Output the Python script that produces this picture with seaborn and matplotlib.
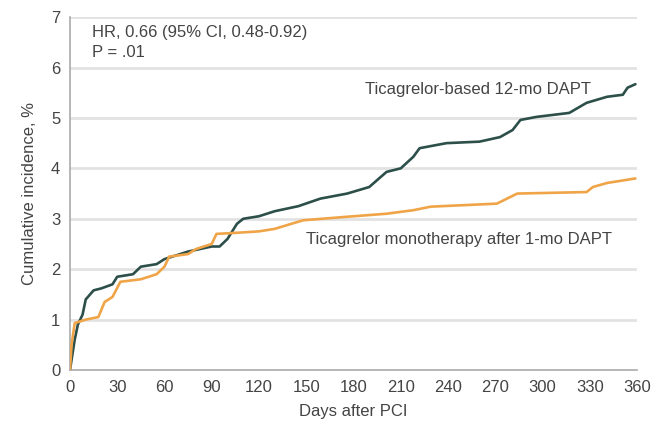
import numpy as np
import pandas as pd
import matplotlib
matplotlib.use("Agg")
import matplotlib.pyplot as plt
import seaborn as sns

# ── Data ─────────────────────────────────────────────────────────────────────
dapt_days = [0, 3, 5, 8, 10, 15, 20, 27, 30, 40, 45, 55, 60, 65, 75, 90, 95, 100,
             106, 110, 120, 130, 145, 159, 176, 190, 201, 210, 218, 222, 239, 260,
             273, 281, 286, 296, 317, 328, 341, 351, 354, 359]
dapt_inc = [0.0, 0.6, 0.9, 1.1, 1.4, 1.58, 1.62, 1.7, 1.85, 1.9, 2.05, 2.1, 2.2, 2.25,
            2.35, 2.45, 2.45, 2.6, 2.9, 3.0, 3.05, 3.15, 3.25, 3.4, 3.5, 3.63, 3.93,
            4.0, 4.23, 4.4, 4.5, 4.53, 4.62, 4.76, 4.96, 5.02, 5.1, 5.3, 5.42, 5.46,
            5.6, 5.67]

mono_days = [0, 1, 3, 10, 18, 22, 27, 32, 45, 55, 60, 63, 75, 80, 90, 93, 105, 120,
             130, 148, 176, 201, 218, 229, 271, 284, 328, 332, 341, 359]
mono_inc = [0.0, 0.5, 0.93, 1.0, 1.05, 1.35, 1.45, 1.75, 1.8, 1.9, 2.05, 2.25, 2.3,
            2.4, 2.5, 2.7, 2.72, 2.75, 2.8, 2.97, 3.04, 3.1, 3.17, 3.24, 3.3, 3.5,
            3.53, 3.63, 3.71, 3.8]

x_ticks = list(range(0, 361, 30))
y_ticks = list(range(0, 8))

GREEN, ORANGE, TXT = "#2d4f4a", "#f0a448", "#444444"

df = pd.concat([
    pd.DataFrame({"day": dapt_days, "inc": dapt_inc, "arm": "dapt"}),
    pd.DataFrame({"day": mono_days, "inc": mono_inc, "arm": "mono"}),
])

sns.set_theme(style="white")
plt.rcParams["font.family"] = ["Liberation Sans", "DejaVu Sans"]

fig = plt.figure(figsize=(6.54, 4.28), dpi=100)
ax = fig.add_axes([0.107, 0.1355, 0.867, 0.8245])

for y in y_ticks[1:]:
    ax.axhline(y, color="#e2e2e2", lw=2, zorder=0)

sns.lineplot(data=df, x="day", y="inc", hue="arm", palette={"dapt": GREEN, "mono": ORANGE},
             lw=1.9, legend=False, ax=ax, zorder=3)

ax.set_xlim(0, 360); ax.set_ylim(0, 7)
ax.set_xticks(x_ticks); ax.set_yticks(y_ticks)
ax.tick_params(axis="both", direction="out", length=4, color="#aaaaaa", labelsize=12,
               labelcolor=TXT, pad=3)
for s in ["top", "right"]:
    ax.spines[s].set_visible(False)
for s in ["left", "bottom"]:
    ax.spines[s].set_color("#aaaaaa"); ax.spines[s].set_linewidth(1.2)

ax.set_xlabel("Days after PCI", fontsize=12, color=TXT, labelpad=7)
ax.set_ylabel("Cumulative incidence, %", fontsize=12, color=TXT, labelpad=10)

ax.text(14, 6.7, "HR, 0.66 (95% CI, 0.48-0.92)", fontsize=12, color=TXT, va="center")
ax.text(14, 6.3, "P = .01", fontsize=12, color=TXT, va="center")
ax.text(331, 5.56, "Ticagrelor-based 12-mo DAPT", fontsize=12, color=TXT, ha="right", va="center")
ax.text(150, 2.58, "Ticagrelor monotherapy after 1-mo DAPT", fontsize=12, color=TXT, va="center")

fig.savefig("out.png", dpi=100)
